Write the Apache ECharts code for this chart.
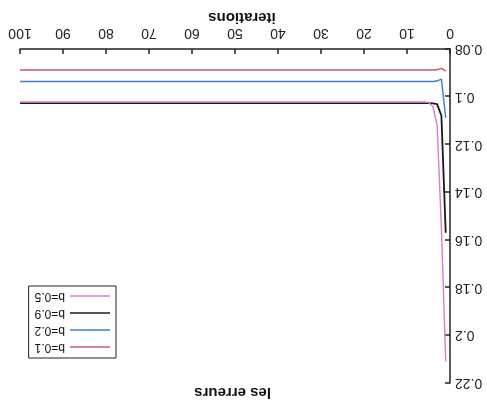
<!DOCTYPE html>
<html>
<head>
<meta charset="utf-8">
<script src="https://cdn.jsdelivr.net/npm/echarts@6/dist/echarts.min.js"></script>
<style>
  html, body { margin: 0; padding: 0; background: #fff; }
  #main { width: 487px; height: 402px; transform: rotate(180deg); transform-origin: 50% 50%; }
</style>
</head>
<body>
<div id="main"></div>
<script>
// Data read from the (upside-down) reference picture
const iterations = [1, 2, 3, 4, 5, 6, 10, 20, 30, 40, 50, 60, 70, 80, 90, 100];
const b01 = [0.0893, 0.0881, 0.0887, 0.0888, 0.0888, 0.0888, 0.0888, 0.0888, 0.0888, 0.0888, 0.0888, 0.0888, 0.0888, 0.0888, 0.0888, 0.0888];
const b02 = [0.1089, 0.0926, 0.0934, 0.0936, 0.0936, 0.0936, 0.0936, 0.0936, 0.0936, 0.0936, 0.0936, 0.0936, 0.0936, 0.0936, 0.0936, 0.0936];
const b09 = [0.157, 0.108, 0.1031, 0.1028, 0.1027, 0.1027, 0.1027, 0.1027, 0.1027, 0.1027, 0.1027, 0.1027, 0.1027, 0.1027, 0.1027, 0.1027];
const b05 = [0.211, 0.155, 0.112, 0.104, 0.1024, 0.1022, 0.1022, 0.1022, 0.1022, 0.1022, 0.1022, 0.1022, 0.1022, 0.1022, 0.1022, 0.1022];
const seriesNames = ['b=0.1', 'b=0.2', 'b=0.9', 'b=0.5'];
const yTicks = { min: 0.08, max: 0.22, interval: 0.02 };
const xTicks = { min: 0, max: 100, interval: 10 };

const pair = (ys) => iterations.map((x, i) => [x, ys[i]]);
const font = 'Liberation Sans, Arial, sans-serif';

const chart = echarts.init(document.getElementById('main'), null, { renderer: 'canvas' });
chart.setOption({
  animation: false,
  backgroundColor: '#fff',
  title: {
    text: 'les erreurs',
    left: 216, top: 2, padding: 0,
    textStyle: { fontFamily: font, fontSize: 15, fontWeight: 'bold', color: '#111' }
  },
  legend: {
    orient: 'vertical',
    left: 371, top: 44,
    padding: [4, 6, 3, 6],
    itemGap: 3,
    icon: 'rect',
    itemWidth: 40, itemHeight: 1.5,
    borderColor: '#222', borderWidth: 1,
    textStyle: { fontFamily: font, fontSize: 12, color: '#111', lineHeight: 14 },
    data: seriesNames
  },
  grid: { left: 37, right: 20, top: 19, bottom: 49, containLabel: false },
  xAxis: {
    type: 'value', min: xTicks.min, max: xTicks.max, interval: xTicks.interval,
    name: 'iterations', nameLocation: 'middle', nameGap: 24, nameMoveOverlap: false,
    nameTextStyle: { fontFamily: font, fontSize: 15, fontWeight: 'bold', color: '#111', padding: [0, 14, 0, 0] },
    axisLine: { lineStyle: { color: '#222', width: 1.5 } },
    axisTick: { inside: true, length: 5, lineStyle: { color: '#222', width: 1.5 } },
    axisLabel: { margin: 9, fontFamily: font, fontSize: 14, color: '#222' },
    splitLine: { show: false }
  },
  yAxis: {
    type: 'value', min: yTicks.min, max: yTicks.max, interval: yTicks.interval,
    axisLine: { show: true, lineStyle: { color: '#222', width: 1.5 } },
    axisTick: { show: true, inside: true, length: 5, lineStyle: { color: '#222', width: 1.5 } },
    axisLabel: { margin: 5, fontFamily: font, fontSize: 14, color: '#222' },
    splitLine: { show: false }
  },
  series: [
    { name: seriesNames[0], type: 'line', symbol: 'none', data: pair(b01), color: '#c45a73', lineStyle: { width: 1.4 } },
    { name: seriesNames[1], type: 'line', symbol: 'none', data: pair(b02), color: '#3f7fc4', lineStyle: { width: 1.4 } },
    { name: seriesNames[2], type: 'line', symbol: 'none', data: pair(b09), color: '#1a1a1a', lineStyle: { width: 1.8 } },
    { name: seriesNames[3], type: 'line', symbol: 'none', data: pair(b05), color: '#d77ccf', lineStyle: { width: 1.4 } }
  ]
});
</script>
</body>
</html>
